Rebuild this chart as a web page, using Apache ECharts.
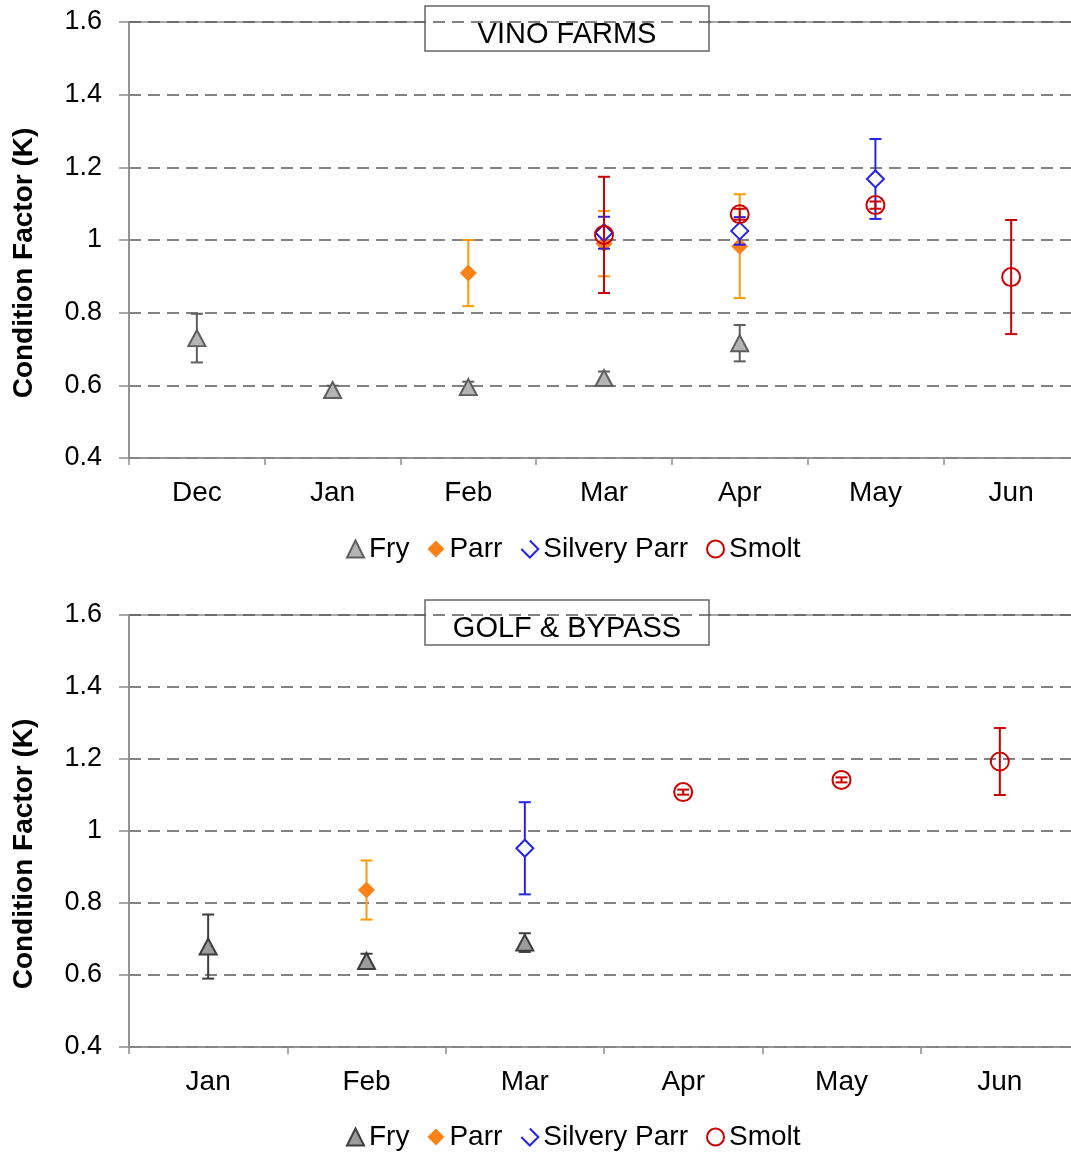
<!DOCTYPE html>
<html>
<head>
<meta charset="utf-8">
<script src="https://cdn.jsdelivr.net/npm/echarts@6/dist/echarts.min.js"></script>
<style>
  html, body { margin: 0; padding: 0; background: #fff; overflow: hidden; }
  #main { width: 1090px; height: 1152px; }
</style>
</head>
<body>
<div id="main"></div>
<script>
// top panel: VINO FARMS
const vinoMonths = ['Dec', 'Jan', 'Feb', 'Mar', 'Apr', 'May', 'Jun'];
const vinoFry = [0.73, 0.587, 0.595, 0.62, 0.716, null, null];
const vinoFryErr = [0.067, 0.012, 0.015, 0.018, 0.05, null, null];
const vinoParr = [null, null, 0.909, 0.99, 0.983, null, null];
const vinoParrErr = [null, null, 0.091, 0.09, 0.143, null, null];
const vinoSilvery = [null, null, null, 1.02, 1.025, 1.168, null];
const vinoSilveryErr = [null, null, null, 0.044, 0.038, 0.11, null];
const vinoSmolt = [null, null, null, 1.014, 1.071, 1.096, 0.898];
const vinoSmoltErr = [null, null, null, 0.16, 0.015, 0.01, 0.157];

// bottom panel: GOLF & BYPASS
const golfMonths = ['Jan', 'Feb', 'Mar', 'Apr', 'May', 'Jun'];
const golfFry = [0.679, 0.639, 0.69, null, null, null];
const golfFryErr = [0.089, 0.02, 0.026, null, null, null];
const golfParr = [null, 0.836, null, null, null, null];
const golfParrErr = [null, 0.082, null, null, null, null];
const golfSilvery = [null, null, 0.952, null, null, null];
const golfSilveryErr = [null, null, 0.128, null, null, null];
const golfSmolt = [null, null, null, 1.108, 1.142, 1.193];
const golfSmoltErr = [null, null, null, 0.007, 0.007, 0.093];

const chart = echarts.init(document.getElementById('main'));
const FONT = 'Liberation Sans, Arial, sans-serif';

function pts(vals) {
  const out = [];
  vals.forEach((v, i) => { if (v != null) out.push([i, v]); });
  return out;
}
function bars(vals, errs) {
  const out = [];
  vals.forEach((v, i) => { if (v != null) out.push([i, v - errs[i], v + errs[i]]); });
  return out;
}

function errSeries(idx, vals, errs, color, z) {
  return {
    type: 'custom',
    xAxisIndex: idx, yAxisIndex: idx,
    z: z,
    silent: true,
    data: bars(vals, errs),
    renderItem: function (params, api) {
      const lo = api.coord([api.value(0), api.value(1)]);
      const hi = api.coord([api.value(0), api.value(2)]);
      const w = 6;
      const st = { stroke: color, lineWidth: 2 };
      return {
        type: 'group',
        children: [
          { type: 'line', shape: { x1: hi[0], y1: hi[1], x2: lo[0], y2: lo[1] }, style: st },
          { type: 'line', shape: { x1: hi[0] - w, y1: hi[1], x2: hi[0] + w, y2: hi[1] }, style: st },
          { type: 'line', shape: { x1: lo[0] - w, y1: lo[1], x2: lo[0] + w, y2: lo[1] }, style: st }
        ]
      };
    }
  };
}

function dotSeries(idx, name, vals, symbol, size, itemStyle, z) {
  return {
    type: 'scatter',
    name: name,
    xAxisIndex: idx, yAxisIndex: idx,
    z: z,
    symbol: symbol,
    symbolSize: size,
    itemStyle: itemStyle,
    data: pts(vals)
  };
}

function panelSeries(idx, suffix, fry, fryErr, parr, parrErr, sil, silErr, smolt, smoltErr, fryFill, fryLine) {
  return [
    errSeries(idx, fry, fryErr, fryLine, 2),
    dotSeries(idx, 'Fry' + suffix, fry, 'triangle', [17, 16],
      { color: fryFill, borderColor: fryLine, borderWidth: 2, opacity: 1 }, 3),
    errSeries(idx, parr, parrErr, '#ff9a0a', 4),
    dotSeries(idx, 'Parr' + suffix, parr, 'diamond', 17,
      { color: '#f98218', opacity: 1 }, 5),
    errSeries(idx, sil, silErr, '#2424e8', 6),
    dotSeries(idx, 'Silvery Parr' + suffix, sil, 'diamond', 17,
      { color: '#ffffff', borderColor: '#2424e8', borderWidth: 2, opacity: 1 }, 7),
    errSeries(idx, smolt, smoltErr, '#cc0000', 8),
    dotSeries(idx, 'Smolt' + suffix, smolt, 'circle', 18,
      { color: 'rgba(255,255,255,0)', borderColor: '#cc0000', borderWidth: 2, opacity: 1 }, 9)
  ];
}

function yAxis(idx) {
  return {
    type: 'value',
    gridIndex: idx,
    min: 0.4, max: 1.6, interval: 0.2,
    name: 'Condition Factor (K)',
    nameLocation: 'middle',
    nameGap: 91,
    nameTextStyle: {
      fontFamily: FONT, fontSize: 28, fontWeight: 'bold', color: '#000',
      padding: [0, 46, 0, 0]
    },
    axisLine: { show: true, lineStyle: { color: '#8c8c8c', width: 1.5 } },
    axisTick: { show: true, length: 10, lineStyle: { color: '#8c8c8c', width: 1.5 } },
    axisLabel: {
      margin: 27, fontFamily: FONT, fontSize: 27, color: '#000',
      formatter: v => String(+v.toFixed(1))
    },
    splitLine: { show: true, lineStyle: { color: '#5a5a5a', width: 1.5, type: [12, 7] } }
  };
}

function xAxis(idx, cats) {
  return {
    type: 'category',
    gridIndex: idx,
    data: cats,
    boundaryGap: true,
    axisLine: { show: true, lineStyle: { color: '#8c8c8c', width: 1.5 } },
    axisTick: { show: true, length: 7, lineStyle: { color: '#8c8c8c', width: 1.5 } },
    axisLabel: { margin: 21, fontFamily: FONT, fontSize: 28, color: '#000' },
    splitLine: { show: false }
  };
}

function legend(top, suffix) {
  return {
    top: top,
    left: 341,
    itemWidth: 17,
    itemHeight: 17,
    itemGap: 18,
    textStyle: { fontFamily: FONT, fontSize: 28, color: '#000' },
    formatter: n => n.split('|')[0],
    selectedMode: false,
    data: [
      { name: 'Fry' + suffix },
      { name: 'Parr' + suffix },
      { name: 'Silvery Parr' + suffix, icon: 'path://M5,0 L10,5 L5,10 L0,5',
        itemStyle: { color: 'rgba(255,255,255,0)', borderColor: '#2424e8', borderWidth: 2 } },
      { name: 'Smolt' + suffix, icon: 'circle' }
    ]
  };
}

function titleBox(y, label) {
  return {
    type: 'group',
    z: 100,
    children: [
      { type: 'rect', shape: { x: 425, y: y, width: 284, height: 45 },
        style: { fill: '#fff', stroke: '#666', lineWidth: 1.5 } },
      { type: 'text', x: 567, y: y + 29,
        style: { text: label, fill: '#000', font: '29px ' + FONT, align: 'center', verticalAlign: 'middle' } }
    ]
  };
}

chart.setOption({
  animation: false,
  backgroundColor: '#fff',
  grid: [
    { left: 129, top: 22, width: 950, height: 436, show: true, borderColor: '#8c8c8c', borderWidth: 1.5 },
    { left: 129, top: 615, width: 950, height: 432, show: true, borderColor: '#8c8c8c', borderWidth: 1.5 }
  ],
  xAxis: [xAxis(0, vinoMonths), xAxis(1, golfMonths)],
  yAxis: [yAxis(0), yAxis(1)],
  legend: [legend(530, '|v'), legend(1118, '|g')],
  graphic: [titleBox(6, 'VINO FARMS'), titleBox(600, 'GOLF & BYPASS')],
  series: [].concat(
    panelSeries(0, '|v', vinoFry, vinoFryErr, vinoParr, vinoParrErr, vinoSilvery, vinoSilveryErr,
      vinoSmolt, vinoSmoltErr, '#b4b4b4', '#5e5e5e'),
    panelSeries(1, '|g', golfFry, golfFryErr, golfParr, golfParrErr, golfSilvery, golfSilveryErr,
      golfSmolt, golfSmoltErr, '#9c9c9c', '#3d3d3d')
  )
});
</script>
</body>
</html>
